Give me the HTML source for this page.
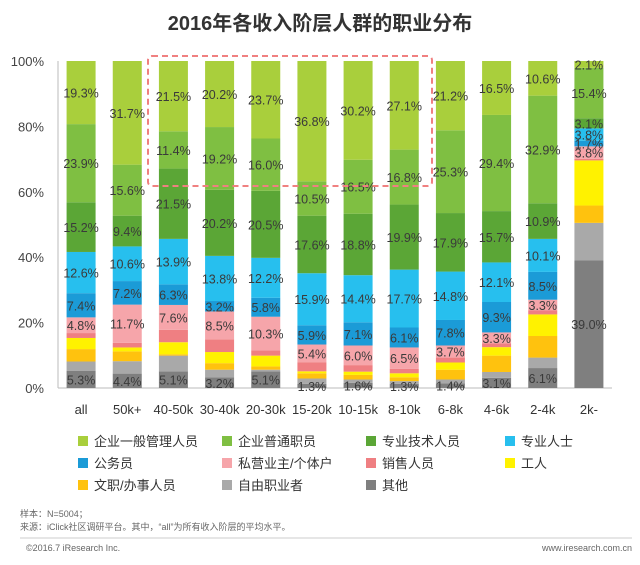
<!DOCTYPE html>
<html><head><meta charset="utf-8">
<style>
body{margin:0;background:#fff;font-family:"Liberation Sans","Noto Sans CJK SC",sans-serif;}
#wrap{position:relative;width:640px;height:565px;overflow:hidden;}
</style></head>
<body><div id="wrap">
<svg id="svg" width="640" height="565"></svg>
</div>
<script>
const categories=["all","50k+","40-50k","30-40k","20-30k","15-20k","10-15k","8-10k","6-8k","4-6k","2-4k","2k-"];
const seriesNames=["其他","自由职业者","文职/办事人员","工人","销售人员","私营业主/个体户","公务员","专业人士","专业技术人员","企业普通职员","企业一般管理人员"];
const other=[5.3,4.4,5.1,3.2,5.1,1.3,1.6,1.3,1.4,3.1,6.1,39.0];
const freelance=[2.8,3.8,4.8,2.4,0.5,1.6,1.0,0.8,1.2,1.8,3.2,11.5];
const clerk=[3.8,3.0,0.4,2.0,1.0,1.6,1.4,1.2,3.0,5.0,6.6,5.3];
const worker=[3.4,1.2,3.7,3.4,3.3,0.6,1.0,1.2,2.2,2.6,6.6,13.8];
const sales=[1.5,1.4,3.8,3.9,1.6,2.8,2.0,1.4,1.5,1.2,1.2,0.5];
const owner=[4.8,11.7,7.6,8.5,10.3,5.4,6.0,6.5,3.7,3.3,3.3,3.8];
const civil=[7.4,7.2,6.3,3.2,5.8,5.9,7.1,6.1,7.8,9.3,8.5,1.7];
const prof=[12.6,10.6,13.9,13.8,12.2,15.9,14.4,17.7,14.8,12.1,10.1,3.8];
const tech=[15.2,9.4,21.5,20.2,20.5,17.6,18.8,19.9,17.9,15.7,10.9,3.1];
const staff=[23.9,15.6,11.4,19.2,16.0,10.5,16.5,16.8,25.3,29.4,32.9,15.4];
const mgmt=[19.3,31.7,21.5,20.2,23.7,36.8,30.2,27.1,21.2,16.5,10.6,2.1];
const yTicks=["0%","20%","40%","60%","80%","100%"];
const series=[other,freelance,clerk,worker,sales,owner,civil,prof,tech,staff,mgmt];
const colors=["#7f7f7f","#a9a9a9","#ffc20e","#fff200","#ef7f82","#f6a5aa","#1b9bd7","#27bfee","#5ba636","#7fbf42","#a9cf3c"];
const labeled=[true,false,false,false,false,true,true,true,true,true,true];
const slugs=["other","freelance","clerk","worker","sales","owner","civil","professional","technical","staff","management"];
const NS="http://www.w3.org/2000/svg";
const svg=document.getElementById("svg");
const x0=58,x1=612,yBase=388,yTop=61,barW=29;
const step=(x1-x0)/categories.length;
function xC(i){return x0+step*(i+0.5);}
function yS(v){return yBase-(yBase-yTop)*v/100;}
function mk(tag,attrs){const e=document.createElementNS(NS,tag);for(const k in attrs)e.setAttribute(k,attrs[k]);svg.appendChild(e);return e;}
let t=mk("text",{x:320,y:30,"text-anchor":"middle","font-size":"20","font-weight":"bold",fill:"#333"});t.textContent="2016年各收入阶层人群的职业分布";


// axes
let ax=mk("line",{x1:x0,y1:yTop,x2:x0,y2:yBase,stroke:"#bbb"});


let bx=mk("line",{x1:x0,y1:yBase,x2:x1,y2:yBase,stroke:"#bbb"});


yTicks.forEach((lab,i)=>{const v=parseFloat(lab);const e=mk("text",{x:x0-14,y:yS(v)+5,"text-anchor":"end","font-size":"13",fill:"#444"});e.textContent=lab;

});
categories.forEach((c,i)=>{
 let acc=0;
 series.forEach((s,k)=>{
  const v=s[i];const yt=yS(acc+v),yb=yS(acc);
  const r=mk("rect",{x:xC(i)-barW/2,y:yt,width:barW,height:Math.max(0,yb-yt),fill:colors[k]});
  
  
  acc+=v;
 });
 acc=0;
 series.forEach((s,k)=>{
  const v=s[i];
  if(labeled[k]){const e=mk("text",{x:xC(i),y:yS(acc+v/2)+5,"text-anchor":"middle","font-size":"12.5",fill:"#3a3a3a"});e.textContent=v.toFixed(1)+"%";
   
   }
  acc+=v;
 });
 const e=mk("text",{x:xC(i),y:414,"text-anchor":"middle","font-size":"13",fill:"#333"});e.textContent=c;
 
 
});
let hl=mk("rect",{x:148,y:56,width:284,height:130,fill:"none",stroke:"#f08080","stroke-width":"2","stroke-dasharray":"6,4",rx:"4"});


// legend
const legendOrder=[10,9,8,7,6,5,4,3,2,1,0];
const lx=[78,222,366,505],ly=[445,467,489];
legendOrder.forEach((k,j)=>{
 const cx=lx[j%4],cy=ly[Math.floor(j/4)];
 const r=mk("rect",{x:cx,y:cy-9,width:10,height:10,fill:colors[k]});
 
 
 const e=mk("text",{x:cx+16,y:cy+1,"font-size":"13",fill:"#333"});e.textContent=seriesNames[k];
 
 
});
const foot=[["样本：N=5004；",20,517],["来源：iClick社区调研平台。其中，“all”为所有收入阶层的平均水平。",20,530],["©2016.7 iResearch Inc.",26,551]];
foot.forEach(f=>{const e=mk("text",{x:f[1],y:f[2],"font-size":"9",fill:"#666"});e.textContent=f[0];
 
 });
let w=mk("text",{x:632,y:551,"text-anchor":"end","font-size":"9",fill:"#666"});w.textContent="www.iresearch.com.cn";


let ln=mk("line",{x1:20,y1:538,x2:632,y2:538,stroke:"#ccc"});


</script>
</body></html>
